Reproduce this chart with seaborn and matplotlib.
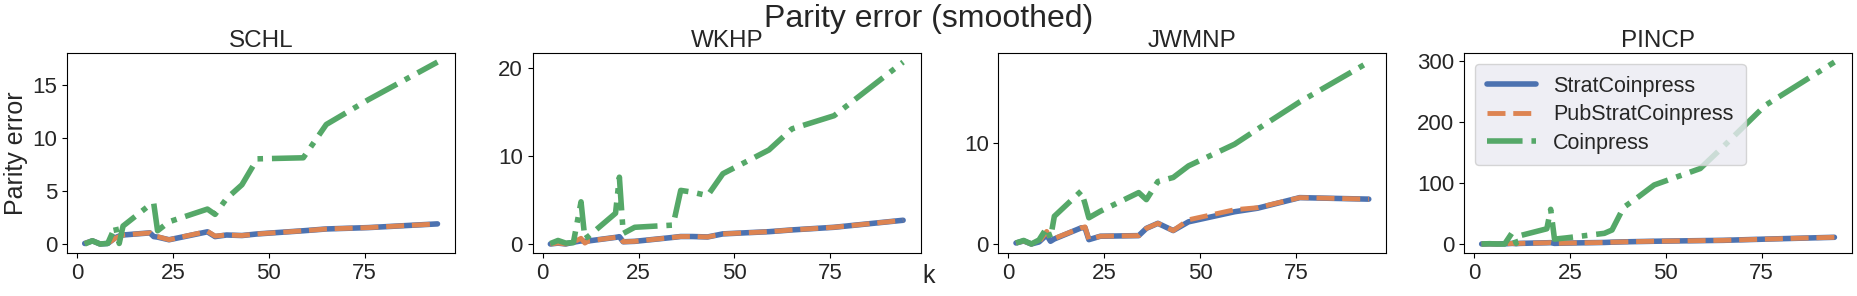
import numpy as np
import pandas as pd
import matplotlib
matplotlib.use("Agg")
import matplotlib.pyplot as plt
import seaborn as sns

# k values shared by every panel
k = [2, 4, 6, 8, 10, 11, 12, 19, 20, 21, 24, 34, 36, 39, 43, 47, 59, 65, 76, 94]

features = ["SCHL", "WKHP", "JWMNP", "PINCP"]
methods = ["StratCoinpress", "PubStratCoinpress", "Coinpress"]

# SCHL
schl_strat = [0.05, 0.3, 0.0, 0.05, 0.6, 0.75, 0.85, 1.05, 0.7, 0.65, 0.4, 1.15, 0.7, 0.85, 0.8, 0.95, 1.25, 1.42, 1.55, 1.9]
schl_pub = [0.05, 0.3, 0.0, 0.05, 0.55, 0.7, 0.85, 1.05, 0.75, 0.7, 0.4, 1.2, 0.75, 0.85, 0.8, 0.95, 1.25, 1.42, 1.55, 1.9]
schl_coin = [0.0, 0.3, 0.0, 0.05, 1.7, 0.05, 1.7, 3.7, 3.85, 1.25, 2.1, 3.3, 2.8, 4.3, 5.6, 8.05, 8.15, 11.3, 13.65, 17.2]

# WKHP
wkhp_strat = [0.0, 0.1, 0.0, 0.2, 0.35, 0.3, 0.35, 0.75, 0.83, 0.25, 0.3, 0.75, 0.85, 0.85, 0.8, 1.15, 1.4, 1.6, 1.9, 2.7]
wkhp_pub = [0.0, 0.1, 0.0, 0.2, 0.65, 0.1, 0.35, 0.75, 0.83, 0.25, 0.3, 0.75, 0.85, 0.85, 0.8, 1.15, 1.4, 1.6, 1.9, 2.7]
wkhp_coin = [0.05, 0.4, 0.1, 0.15, 4.8, 0.6, 0.9, 3.5, 7.6, 1.2, 1.9, 2.15, 6.1, 5.9, 5.5, 8.0, 10.7, 13.1, 14.6, 20.7]

# JWMNP
jwmnp_strat = [0.1, 0.3, 0.0, 0.2, 0.9, 0.27, 0.5, 1.6, 1.6, 0.43, 0.77, 0.83, 1.55, 2.05, 1.33, 2.2, 3.2, 3.55, 4.6, 4.45]
jwmnp_pub = [0.1, 0.3, 0.0, 0.2, 1.25, 0.5, 0.55, 1.6, 1.7, 0.45, 0.77, 0.83, 1.55, 2.05, 1.33, 2.4, 3.4, 3.6, 4.6, 4.45]
jwmnp_coin = [0.1, 0.35, 0.0, 0.4, 1.6, 0.6, 2.75, 5.25, 4.0, 2.6, 3.25, 5.1, 4.4, 6.2, 6.6, 7.75, 9.9, 11.4, 14.1, 18.05]

# PINCP
pincp_strat = [0.0, 0.2, 0.0, 0.3, 1.0, 0.5, 1.0, 2.0, 2.2, 1.0, 1.5, 2.5, 3.0, 3.5, 4.0, 4.5, 5.5, 6.0, 8.0, 11.0]
pincp_pub = [0.0, 0.2, 0.0, 0.3, 1.0, 0.5, 1.0, 2.0, 2.2, 1.0, 1.5, 2.5, 3.0, 3.5, 4.0, 4.5, 5.5, 6.0, 8.0, 11.0]
pincp_coin = [0.0, 0.5, 0.0, 0.0, 19.0, 1.0, 13.7, 25.0, 57.0, 8.0, 10.0, 17.5, 23.0, 60.0, 78.0, 97.0, 124.0, 160.0, 228.0, 299.0]

series = {
    "SCHL": [schl_strat, schl_pub, schl_coin],
    "WKHP": [wkhp_strat, wkhp_pub, wkhp_coin],
    "JWMNP": [jwmnp_strat, jwmnp_pub, jwmnp_coin],
    "PINCP": [pincp_strat, pincp_pub, pincp_coin],
}

xticks = [0, 25, 50, 75]
yticks = {
    "SCHL": [0, 5, 10, 15],
    "WKHP": [0, 10, 20],
    "JWMNP": [0, 10],
    "PINCP": [0, 100, 200, 300],
}

sns.set_style("ticks", {"axes.edgecolor": "black", "xtick.color": "black", "ytick.color": "black"})
plt.rcParams["font.family"] = ["Liberation Sans", "DejaVu Sans"]
pal = sns.color_palette("deep")
colors = [pal[0], pal[1], pal[2]]
styles = ["-", "--", "-."]
widths = [4.0, 3.5, 4.0]

fig, axes = plt.subplots(1, 4, figsize=(18.58, 2.96), dpi=100)
fig.subplots_adjust(left=0.0361, right=0.9968, top=0.821, bottom=0.145, wspace=0.2)

for ax, feat in zip(axes, features):
    for m, vals, c, ls, lw in zip(methods, series[feat], colors, styles, widths):
        df = pd.DataFrame({"k": k, "err": vals})
        sns.lineplot(data=df, x="k", y="err", ax=ax, color=c, linestyle=ls,
                     linewidth=lw, label=m, legend=(feat == "PINCP"))
    ax.set_title(feat, fontsize=17.5, pad=4)
    ax.set_xticks(xticks)
    ax.set_yticks(yticks[feat])
    ax.tick_params(labelsize=16, labelcolor="#262626")
    ax.set_xlabel("")
    ax.set_ylabel("")

axes[0].set_ylabel("Parity error", fontsize=18, labelpad=3)

leg = axes[3].legend(loc="upper left", fontsize=15.5, handlelength=2.3,
                     labelspacing=0.35, borderpad=0.55, facecolor="#EAEAF2",
                     edgecolor="0.8", framealpha=0.8)

fig.suptitle("Parity error (smoothed)", fontsize=23, y=0.985, va="top")
fig.text(0.5, 0.044, "k", fontsize=18, ha="center", va="baseline")

fig.savefig("out.png", dpi=100)
